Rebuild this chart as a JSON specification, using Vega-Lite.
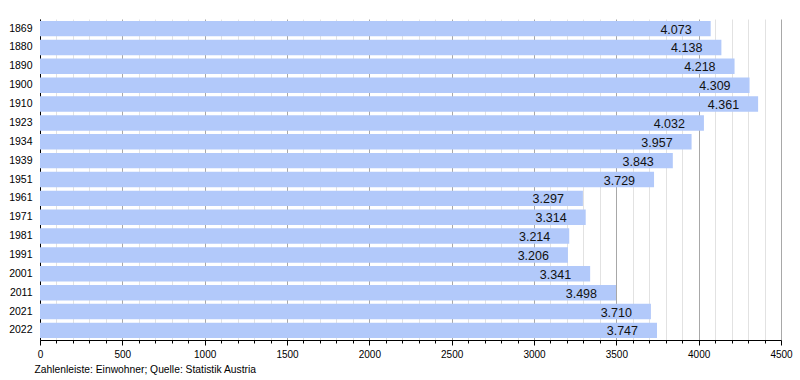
{
  "$schema": "https://vega.github.io/schema/vega-lite/v6.json",
  "width": 741,
  "height": 321,
  "autosize": {"type": "none"},
  "padding": {"left": 40, "top": 19, "right": 19, "bottom": 40},
  "background": "white",
  "config": {
    "font": "Liberation Sans",
    "view": {"stroke": null},
    "locale": {"number": {"decimal": ",", "thousands": ".", "grouping": [3], "currency": ["", " €"]}}
  },
  "data": {"values": [
    {"jahr": "1869", "einwohner": 4073},
    {"jahr": "1880", "einwohner": 4138},
    {"jahr": "1890", "einwohner": 4218},
    {"jahr": "1900", "einwohner": 4309},
    {"jahr": "1910", "einwohner": 4361},
    {"jahr": "1923", "einwohner": 4032},
    {"jahr": "1934", "einwohner": 3957},
    {"jahr": "1939", "einwohner": 3843},
    {"jahr": "1951", "einwohner": 3729},
    {"jahr": "1961", "einwohner": 3297},
    {"jahr": "1971", "einwohner": 3314},
    {"jahr": "1981", "einwohner": 3214},
    {"jahr": "1991", "einwohner": 3206},
    {"jahr": "2001", "einwohner": 3341},
    {"jahr": "2011", "einwohner": 3498},
    {"jahr": "2021", "einwohner": 3710},
    {"jahr": "2022", "einwohner": 3747}
  ]},
  "encoding": {
    "y": {
      "field": "jahr", "type": "nominal", "sort": null,
      "scale": {"paddingInner": 0.18, "paddingOuter": 0.1},
      "axis": {"title": null, "ticks": false, "labelFontSize": 10.5, "labelColor": "#000", "labelPadding": 8, "domainColor": "#000", "domainWidth": 1}
    },
    "x": {
      "field": "einwohner", "type": "quantitative",
      "scale": {"domain": [0, 4500], "nice": false},
      "axis": {
        "values": [0,100,200,300,400,500,600,700,800,900,1000,1100,1200,1300,1400,1500,1600,1700,1800,1900,2000,2100,2200,2300,2400,2500,2600,2700,2800,2900,3000,3100,3200,3300,3400,3500,3600,3700,3800,3900,4000,4100,4200,4300,4400,4500],
        "format": "d",
        "labelExpr": "datum.value % 500 === 0 ? datum.label : ''",
        "labelFontSize": 10,
        "labelColor": "#000",
        "labelPadding": 4,
        "labelFlush": false,
        "labelOverlap": false,
        "domainColor": "#000",
        "tickColor": "#000",
        "tickSize": {"condition": {"test": "datum.value % 500 === 0", "value": 5}, "value": 3},
        "grid": true,
        "gridColor": {"condition": {"test": "datum.value % 500 === 0", "value": "#a8a8a8"}, "value": "#e2e2e2"},
        "title": "Zahlenleiste: Einwohner; Quelle: Statistik Austria",
        "titleFontSize": 10.3,
        "titleFontWeight": "normal",
        "titleColor": "#000",
        "titleAnchor": "start",
        "titleAlign": "left",
        "titleBaseline": "middle",
        "titleX": -6,
        "titleY": 29
      }
    }
  },
  "layer": [
    {"mark": {"type": "bar", "color": "#b2c9fa"}},
    {
      "mark": {"type": "text", "align": "right", "baseline": "middle", "dx": -19, "dy": 1, "fontSize": 12.5, "color": "#111"},
      "encoding": {"text": {"field": "einwohner", "type": "quantitative", "format": ",d"}}
    }
  ]
}
